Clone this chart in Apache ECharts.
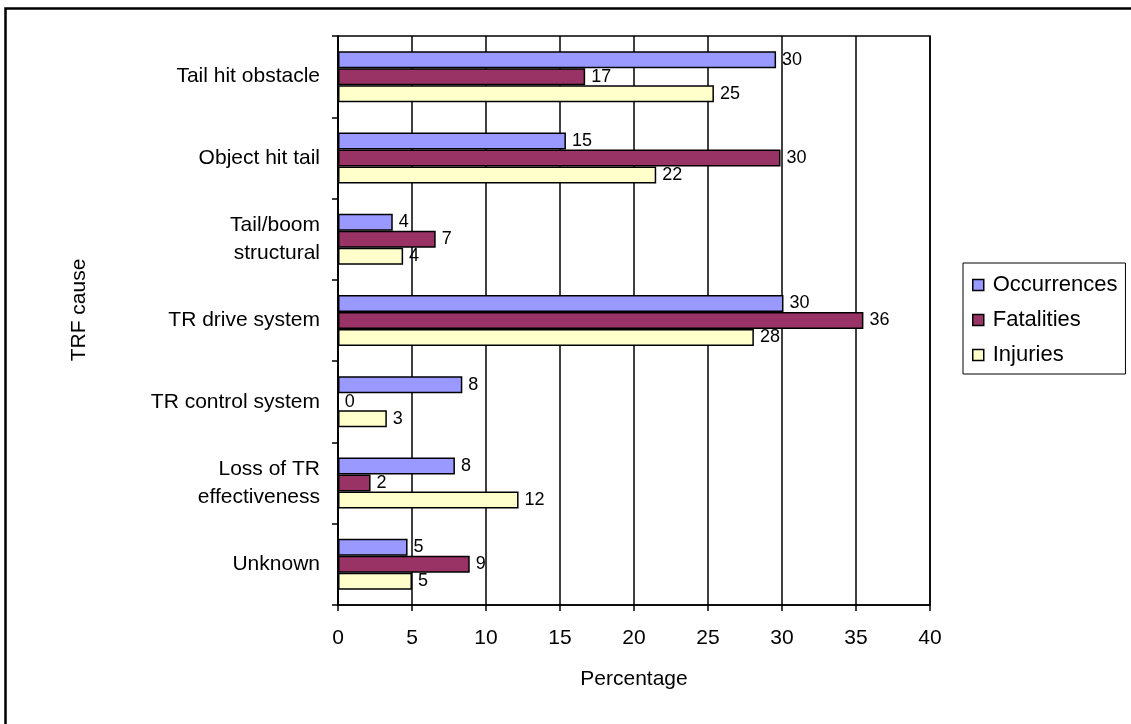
<!DOCTYPE html>
<html>
<head>
<meta charset="utf-8">
<script src="https://cdn.jsdelivr.net/npm/echarts@6/dist/echarts.min.js"></script>
<style>
html,body{margin:0;padding:0;background:#fff;}
#c{width:1131px;height:724px;}
</style>
</head>
<body>
<div id="c"></div>
<script>
const categories = ["Tail hit obstacle", "Object hit tail", "Tail/boom\nstructural", "TR drive system", "TR control system", "Loss of TR\neffectiveness", "Unknown"];
const occurrences = [29.6, 15.4, 3.7, 30.1, 8.4, 7.9, 4.7];
const fatalities = [16.7, 29.9, 6.6, 35.5, 0, 2.2, 8.9];
const injuries = [25.4, 21.5, 4.4, 28.1, 3.3, 12.2, 5.0];
const xTicks = [0, 5, 10, 15, 20, 25, 30, 35, 40];
const seriesNames = ['Occurrences', 'Fatalities', 'Injuries'];

const FONT = 'Liberation Sans, Arial, sans-serif';
const chart = echarts.init(document.getElementById('c'), null, {renderer: 'canvas'});

function mkSeries(name, data, color) {
  return {
    name: name, type: 'bar', data: data,
    barWidth: 17, barGap: '0%',
    itemStyle: {color: color, borderColor: '#000', borderWidth: 1.5},
    label: {show: true, position: 'right', distance: 6, color: '#000', fontFamily: FONT, fontSize: 18,
      formatter: p => String(Math.round(p.value))},
    emphasis: {disabled: true}
  };
}

chart.setOption({
  animation: false,
  backgroundColor: '#fff',
  graphic: [
    {type: 'polyline', shape: {points: [[5.5, 724], [5.5, 8.5], [1131, 8.5]]}, style: {fill: 'none', stroke: '#000', lineWidth: 2.5}, silent: true},
    {type: 'text', x: 79, y: 310, rotation: Math.PI / 2, silent: true,
      style: {text: 'TRF cause', fontFamily: FONT, fontSize: 21, fill: '#000', textAlign: 'center', textVerticalAlign: 'middle'}}
  ],
  grid: {left: 338, top: 36, width: 592, height: 569, show: true, borderColor: '#000', borderWidth: 1.5, backgroundColor: 'transparent'},
  legend: {
    orient: 'vertical', left: 963, top: 263,
    data: seriesNames,
    icon: 'rect', itemWidth: 11, itemHeight: 11, itemGap: 13,
    borderColor: '#000', borderWidth: 1, padding: [11, 8, 8, 9],
    textStyle: {fontFamily: FONT, fontSize: 22, color: '#000', padding: [0, 0, 0, 4]},
    itemStyle: {borderColor: '#000', borderWidth: 1.5}
  },
  xAxis: {
    type: 'value', min: 0, max: 40, interval: 5,
    name: 'Percentage', nameLocation: 'middle', nameGap: 64,
    nameTextStyle: {fontFamily: FONT, fontSize: 21, color: '#000'},
    axisLine: {show: true, lineStyle: {color: '#000', width: 1.5}},
    axisTick: {show: true, length: 6, lineStyle: {color: '#000', width: 1.5}},
    axisLabel: {margin: 23, fontFamily: FONT, fontSize: 21, color: '#000', formatter: v => xTicks.includes(v) ? String(v) : ''},
    splitLine: {show: true, lineStyle: {color: '#000', width: 1.5}}
  },
  yAxis: {
    type: 'category', data: categories, inverse: true,
    axisLine: {show: true, lineStyle: {color: '#000', width: 1.5}},
    axisTick: {show: true, length: 6, lineStyle: {color: '#000', width: 1.5}},
    axisLabel: {margin: 18, fontFamily: FONT, fontSize: 21, color: '#000', lineHeight: 28, align: 'right'},
    splitLine: {show: false}
  },
  series: [
    mkSeries(seriesNames[0], occurrences, '#9999FF'),
    mkSeries(seriesNames[1], fatalities, '#993366'),
    mkSeries(seriesNames[2], injuries, '#FFFFCC')
  ]
});
</script>
</body>
</html>
